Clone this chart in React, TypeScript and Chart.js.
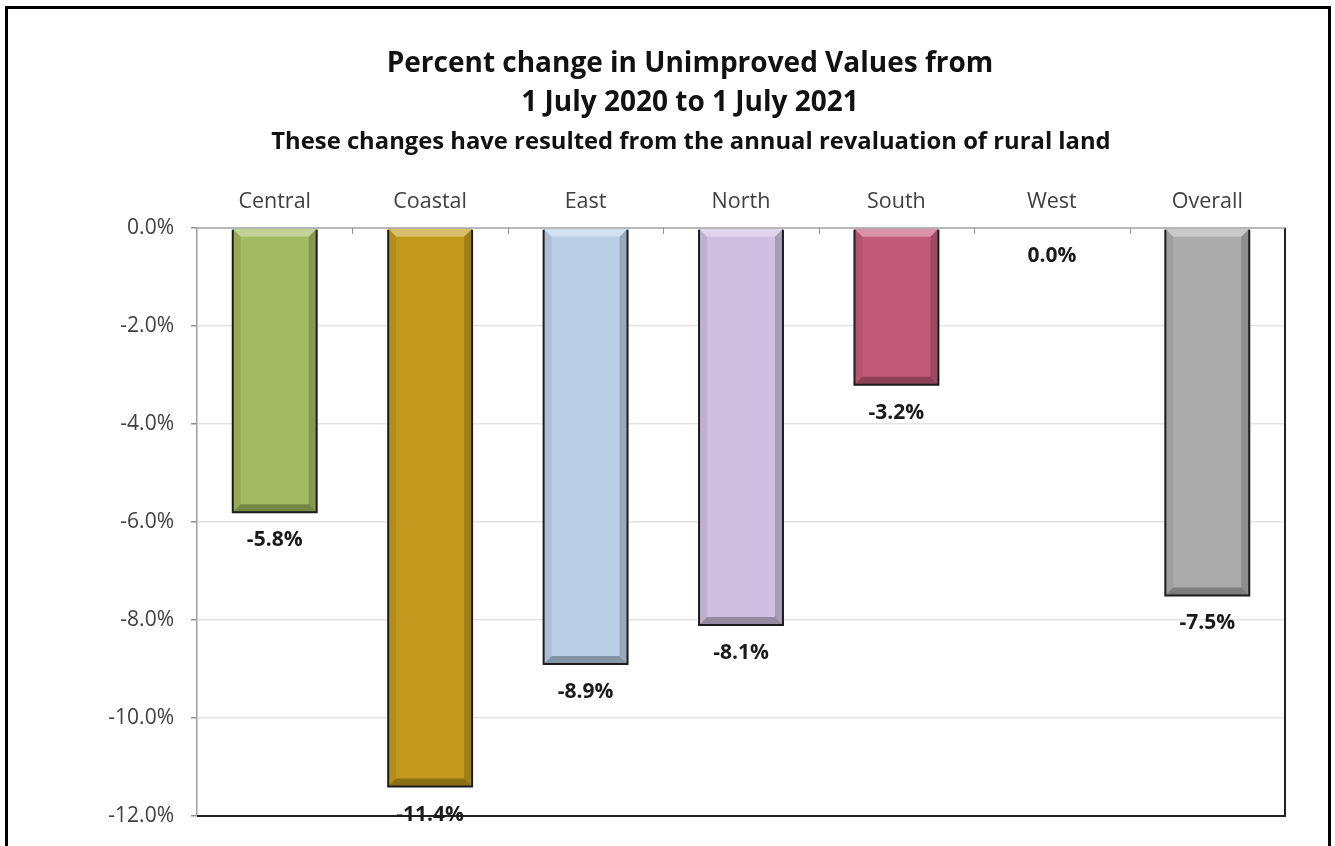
import React, { useEffect, useRef } from "react";
import { Chart, registerables } from "chart.js";

Chart.register(...registerables);

const categories = ["Central", "Coastal", "East", "North", "South", "West", "Overall"];
const values = [-5.8, -11.4, -8.9, -8.1, -3.2, 0.0, -7.5];
const barColors = ["#A3BA60", "#C39A1E", "#BACFE6", "#CDBFE0", "#C45A7A", "#FFFFFF", "#ACACAC"];
const titleLines = ["Percent change in Unimproved Values from", "1 July 2020 to 1 July 2021"];
const subtitleText = "These changes have resulted from the annual revaluation of rural land";
const yTickValues = [0, -2, -4, -6, -8, -10, -12];

const FONT = "'Open Sans', 'Noto Sans', sans-serif";

const framePlugin = {
  id: "frame",
  beforeDraw(chart: any) {
    const ctx = chart.ctx;
    ctx.save();
    ctx.fillStyle = "#ffffff";
    ctx.fillRect(0, 0, chart.width, chart.height);
    ctx.strokeStyle = "#000";
    ctx.lineWidth = 3;
    ctx.strokeRect(6.5, 7.5, 1323, 900);
    ctx.restore();
  },
  afterDraw(chart: any) {
    const ctx = chart.ctx;
    ctx.save();
    ctx.fillStyle = "#111";
    ctx.textAlign = "center";
    ctx.textBaseline = "middle";
    ctx.font = `bold 28px ${FONT}`;
    ctx.fillText(titleLines[0], 690, 64);
    ctx.fillText(titleLines[1], 690, 103);
    ctx.font = `bold 23.8px ${FONT}`;
    ctx.fillText(subtitleText, 691, 142);
    ctx.restore();
  },
};

const plotPlugin = {
  id: "plotDecor",
  afterDatasetsDraw(chart: any) {
    const ctx = chart.ctx;
    const area = chart.chartArea;
    const meta = chart.getDatasetMeta(0);
    ctx.save();
    meta.data.forEach((bar: any, i: number) => {
      const v = values[i];
      if (v === 0) return;
      const l = bar.x - bar.width / 2;
      const r = bar.x + bar.width / 2;
      const t = Math.min(bar.y, bar.base);
      const b = Math.max(bar.y, bar.base);
      const d = 8;
      ctx.fillStyle = "rgba(255,255,255,0.35)";
      ctx.beginPath();
      ctx.moveTo(l, t); ctx.lineTo(r, t); ctx.lineTo(r - d, t + d); ctx.lineTo(l + d, t + d); ctx.closePath();
      ctx.fill();
      ctx.fillStyle = "rgba(0,0,0,0.08)";
      ctx.beginPath();
      ctx.moveTo(l, t); ctx.lineTo(l + d, t + d); ctx.lineTo(l + d, b - d); ctx.lineTo(l, b); ctx.closePath();
      ctx.fill();
      ctx.fillStyle = "rgba(0,0,0,0.18)";
      ctx.beginPath();
      ctx.moveTo(r, t); ctx.lineTo(r - d, t + d); ctx.lineTo(r - d, b - d); ctx.lineTo(r, b); ctx.closePath();
      ctx.fill();
      ctx.fillStyle = "rgba(0,0,0,0.28)";
      ctx.beginPath();
      ctx.moveTo(l, b); ctx.lineTo(r, b); ctx.lineTo(r - d, b - d); ctx.lineTo(l + d, b - d); ctx.closePath();
      ctx.fill();
      ctx.strokeStyle = "#1c1c1c";
      ctx.lineWidth = 2;
      ctx.beginPath();
      ctx.moveTo(l, t + 1); ctx.lineTo(l, b); ctx.lineTo(r, b); ctx.lineTo(r, t + 1);
      ctx.stroke();
    });
    ctx.strokeStyle = "#222";
    ctx.lineWidth = 2;
    ctx.beginPath();
    ctx.moveTo(area.left, area.bottom);
    ctx.lineTo(area.right, area.bottom);
    ctx.lineTo(area.right, area.top);
    ctx.stroke();
    ctx.strokeStyle = "#a0a0a0";
    ctx.lineWidth = 1.5;
    ctx.beginPath();
    ctx.moveTo(area.left, area.top);
    ctx.lineTo(area.right, area.top);
    ctx.stroke();
    const xs = chart.scales.x;
    const step = (area.right - area.left) / categories.length;
    ctx.strokeStyle = "#909090";
    ctx.lineWidth = 1;
    for (let k = 1; k < categories.length; k++) {
      const px = Math.round(area.left + step * k) + 0.5;
      ctx.beginPath();
      ctx.moveTo(px, area.top);
      ctx.lineTo(px, area.top + 6);
      ctx.stroke();
    }
    ctx.fillStyle = "#1a1a1a";
    ctx.font = `bold 21px ${FONT}`;
    ctx.textAlign = "center";
    ctx.textBaseline = "middle";
    meta.data.forEach((bar: any, i: number) => {
      const y = chart.scales.y.getPixelForValue(values[i]);
      ctx.fillText(values[i].toFixed(1) + "%", xs.getPixelForValue(i), y + 28);
    });
    ctx.restore();
  },
};

export default function App() {
  const ref = useRef<HTMLCanvasElement>(null);
  useEffect(() => {
    if (!ref.current) return;
    const chart = new Chart(ref.current, {
      type: "bar",
      data: {
        labels: categories,
        datasets: [
          {
            data: values,
            backgroundColor: barColors,
            borderWidth: 0,
            barPercentage: 0.54,
            categoryPercentage: 1,
          },
        ],
      },
      options: {
        animation: false,
        responsive: false,
        maintainAspectRatio: false,
        layout: { padding: { left: 0, top: 0, right: 50, bottom: 30 } },
        plugins: {
          legend: { display: false },
          title: { display: false },
          tooltip: { enabled: false },
        },
        scales: {
          x: {
            position: "top",
            grid: { display: false, drawTicks: false },
            border: { display: false },
            ticks: {
              color: "#404040",
              font: { family: FONT, size: 21.5 },
              padding: 13,
              maxRotation: 0,
            },
            afterFit(scale: any) {
              scale.height = 228;
            },
          },
          y: {
            min: -12,
            max: 0,
            afterBuildTicks(scale: any) {
              scale.ticks = yTickValues.map((v) => ({ value: v }));
            },
            grid: {
              color: (c: any) => (c.tick && c.tick.value === 0 ? "rgba(0,0,0,0)" : "#e3e3e3"),
              tickColor: "#909090",
              tickLength: 6,
              lineWidth: 1.5,
            },
            border: { display: true, color: "#a0a0a0", width: 1.5 },
            ticks: {
              color: "#404040",
              font: { family: FONT, size: 21 },
              padding: 17,
              callback: (v: any) => Number(v).toFixed(1) + "%",
            },
            afterFit(scale: any) {
              scale.width = 197;
            },
          },
        },
      },
      plugins: [framePlugin, plotPlugin],
    });
    return () => chart.destroy();
  }, []);
  return (
    <div style={{ position: "absolute", left: 0, top: 0, width: 1335, height: 846, background: "#fff" }}>
      <canvas ref={ref} width={1335} height={846} style={{ display: "block" }} />
    </div>
  );
}
